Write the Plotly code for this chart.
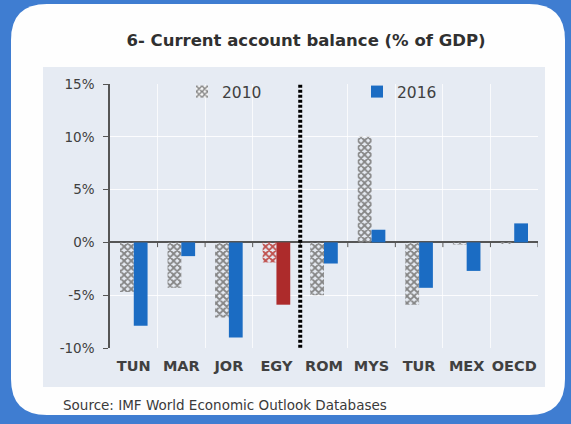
import plotly.graph_objects as go

# ---- data -------------------------------------------------------------
countries = ["TUN", "MAR", "JOR", "EGY", "ROM", "MYS", "TUR", "MEX", "OECD"]
ca_2010 = [-4.7, -4.3, -7.1, -1.9, -5.0, 10.0, -5.9, -0.2, -0.1]
ca_2016 = [-7.9, -1.3, -9.0, -5.9, -2.0, 1.2, -4.3, -2.7, 1.8]
ytick_vals = [-10, -5, 0, 5, 10, 15]
ytick_text = ["-10%", "-5%", "0%", "5%", "10%", "15%"]
highlight = "EGY"

# ---- geometry ---------------------------------------------------------
W, H = 571, 424
ML, MR, MT, MB = 110, 33, 84, 76
PW, PH = W - ML - MR, H - MT - MB


def px(x):
    return (x - ML) / PW


def py(y):
    return (H - MB - y) / PH


def rounded_rect(x0, y0, x1, y1, r):
    rx, ry = r / PW, r / PH
    X0, X1, Y0, Y1 = px(x0), px(x1), py(y1), py(y0)
    return (f"M {X0 + rx},{Y1} L {X1 - rx},{Y1} Q {X1},{Y1} {X1},{Y1 - ry} "
            f"L {X1},{Y0 + ry} Q {X1},{Y0} {X1 - rx},{Y0} "
            f"L {X0 + rx},{Y0} Q {X0},{Y0} {X0},{Y0 + ry} "
            f"L {X0},{Y1 - ry} Q {X0},{Y1} {X0 + rx},{Y1} Z")


BLUE = "#1b6cc3"
RED = "#ad2b2b"
GREY_HATCH = "#858585"
PINK_HATCH = "#c0504d"

xpos = list(range(len(countries)))
col16 = [RED if c == highlight else BLUE for c in countries]
hatch10 = [PINK_HATCH if c == highlight else GREY_HATCH for c in countries]

fig = go.Figure()

fig.add_trace(go.Bar(
    x=xpos, y=ca_2010, name="2010",
    marker=dict(color=hatch10, line=dict(width=0),
                pattern=dict(shape="x", size=5, solidity=0.6,
                             fgcolor=hatch10, bgcolor="#f7f7f7",
                             fillmode="replace")),
    legend="legend",
))
fig.add_trace(go.Bar(
    x=xpos, y=ca_2016, name="2016",
    marker=dict(color=col16, line=dict(width=0)),
    legend="legend2",
))

# small tick marks under the zero line at category boundaries
bx, byy = [], []
for i in range(len(countries)):
    b = i + 0.5
    bx += [b, b, None]
    byy += [0, -0.45, None]
fig.add_trace(go.Scatter(x=bx, y=byy, mode="lines",
                         line=dict(color="#555555", width=1),
                         hoverinfo="skip", showlegend=False))

shapes = [
    # white rounded panel
    dict(type="path", xref="paper", yref="paper", layer="below",
         path=rounded_rect(11, 4, 565, 415, 36),
         fillcolor="#fefefe", line=dict(width=0)),
    # light chart area
    dict(type="rect", xref="paper", yref="paper", layer="below",
         x0=px(43), x1=px(545), y0=py(387), y1=py(67),
         fillcolor="#e6ebf3", line=dict(width=0)),
    # separator between the two country groups
    dict(type="line", xref="x", yref="y", layer="above",
         x0=3.5, x1=3.5, y0=15.4, y1=-10.4,
         line=dict(color="#000000", width=4, dash="3px,2px")),
]

fig.update_layout(
    width=W, height=H,
    margin=dict(l=ML, r=MR, t=MT, b=MB),
    paper_bgcolor="#3f7dd1",
    plot_bgcolor="rgba(0,0,0,0)",
    barmode="group", bargap=0.42, bargroupgap=0.0,
    shapes=shapes,
    font=dict(family="DejaVu Sans", color="#404040"),
    title=dict(text="<b>6- Current account balance (% of GDP)</b>",
               x=306 / W, xanchor="center", y=1 - 40 / H, yanchor="middle",
               font=dict(family="DejaVu Sans", size=16.5, color="#303030")),
    xaxis=dict(range=[-0.5, len(countries) - 0.5],
               tickvals=xpos, ticktext=countries,
               showgrid=False, zeroline=False, showline=False, ticks="",
               ticklabelstandoff=7,
               tickfont=dict(family="DejaVu Sans", size=14.5, color="#404040",
                             weight="bold"),
               minor=dict(tickvals=[i + 0.5 for i in xpos], showgrid=True,
                          gridcolor="rgba(255,255,255,0.75)", gridwidth=1)),
    yaxis=dict(range=[-10, 15], tickvals=ytick_vals, ticktext=ytick_text,
               showgrid=True, gridcolor="rgba(255,255,255,0.85)", gridwidth=1,
               zeroline=True, zerolinecolor="#555555", zerolinewidth=1.5,
               showline=True, linecolor="#555555", linewidth=1.5,
               ticks="outside", ticklen=5, tickcolor="#555555",
               ticklabelstandoff=6,
               tickfont=dict(family="DejaVu Sans", size=13.5, color="#404040")),
    legend=dict(orientation="h", x=px(182), y=py(92), xanchor="left",
                yanchor="middle", bgcolor="rgba(0,0,0,0)",
                font=dict(size=15.5, color="#404040"), itemwidth=30),
    legend2=dict(orientation="h", x=px(357), y=py(92), xanchor="left",
                 yanchor="middle", bgcolor="rgba(0,0,0,0)",
                 font=dict(size=15.5, color="#404040"), itemwidth=30),
    annotations=[dict(text="Source: IMF World Economic Outlook Databases",
                      xref="paper", yref="paper", x=px(61), y=py(405),
                      xanchor="left", yanchor="middle", showarrow=False,
                      font=dict(family="DejaVu Sans", size=13.5,
                                color="#3a3a3a"))],
)

fig.write_html("out.html")
